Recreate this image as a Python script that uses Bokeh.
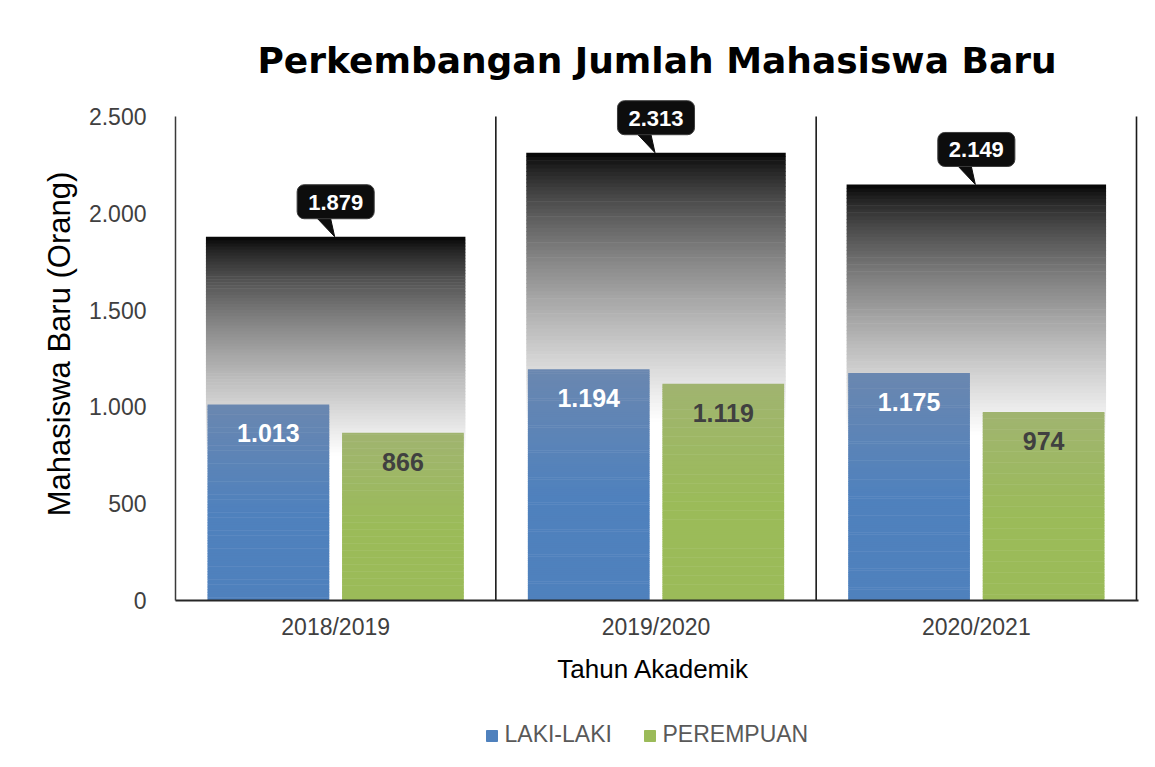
from bokeh.plotting import figure
from bokeh.layouts import column
from bokeh.models import ColumnDataSource, FixedTicker
from bokeh.core.properties import value
from bokeh.embed import file_html
from bokeh.resources import INLINE

# ---------------- data ----------------
title_text = "Perkembangan Jumlah Mahasiswa Baru"
categories = ["2018/2019", "2019/2020", "2020/2021"]
laki = [1013, 1194, 1175]
perempuan = [866, 1119, 974]
total = [1879, 2313, 2149]
y_ticks = [0, 500, 1000, 1500, 2000, 2500]
y_tick_labels = ["0", "500", "1.000", "1.500", "2.000", "2.500"]
y_max = 2500
series_names = ["LAKI-LAKI", "PEREMPUAN"]
series_colors = ["#4f81bd", "#9bbb59"]
x_title = "Tahun  Akademik"
y_title = "Mahasiswa Baru (Orang)"


def fmt(v):
    return f"{v:,}".replace(",", ".")


# ---------------- layout constants (pixels) ----------------
W, H = 1147, 700
H_LEG = 59
ML, MR, MT, MB = 175, 9, 87, 100
AXIS_TOP_PX = 116                      # where y_max sits
FRAME_W = W - ML - MR
FRAME_H = H - MT - MB
PX_PER_Y = (FRAME_H - (AXIS_TOP_PX - MT)) / y_max
Y_END = y_max + (AXIS_TOP_PX - MT) / PX_PER_Y
X_PER_PX = 3.0 / (FRAME_W - 2)
X_END = 2.5 + 2 * X_PER_PX
Y_PER_PX = 1.0 / PX_PER_Y
N = 120  # gradient slices
OVERLAP = 0.6 * Y_PER_PX


def hexc(rgb):
    return "#%02x%02x%02x" % tuple(int(round(max(0, min(255, c)))) for c in rgb)


def lerp(a, b, t):
    return tuple(a[j] + (b[j] - a[j]) * t for j in range(3))


def total_color(f):
    g = 255 * min(1.0, f / 0.6) ** 0.7
    return hexc((g, g, g))


def blue_color(f):
    return hexc(lerp((106, 135, 176), (79, 129, 189), min(1.0, f / 0.55)))


def green_color(f):
    return hexc(lerp((160, 180, 112), (155, 187, 89), min(1.0, f / 0.55)))


def slices(values, offset, color_fn):
    xs, bs, ts, cs = [], [], [], []
    for i, v in enumerate(values):
        for k in range(N):
            xs.append(i + offset)
            bs.append(max(0.0, v * k / N - OVERLAP))
            ts.append(v * (k + 1) / N)
            cs.append(color_fn(1 - (k + 0.5) / N))
    return ColumnDataSource(dict(x=xs, bottom=bs, top=ts, color=cs))


p = figure(width=W, height=H, x_range=(-0.5, X_END), y_range=(0, Y_END),
           output_backend="svg", toolbar_location=None,
           min_border_left=ML, min_border_right=MR, min_border_top=MT, min_border_bottom=MB)
p.outline_line_color = None
p.background_fill_color = "white"
p.border_fill_color = "white"
p.xgrid.grid_line_color = None
p.ygrid.grid_line_color = None

idx = list(range(len(categories)))

# category separators (boundaries between categories + right edge)
bounds_x = [i + 0.5 for i in idx]
p.segment(x0=bounds_x, y0=[0] * len(bounds_x), x1=bounds_x, y1=[y_max] * len(bounds_x),
          line_color="#1a1a1a", line_width=1.6)

# total gradient bars
src_t = slices(total, 0.0, total_color)
p.vbar(x="x", bottom="bottom", top="top", width=0.81, source=src_t,
       fill_color="color", line_color=None)

src_m = slices(laki, -0.21, blue_color)
p.vbar(x="x", bottom="bottom", top="top", width=0.38, source=src_m,
       fill_color="color", line_color=None)
src_f = slices(perempuan, 0.21, green_color)
p.vbar(x="x", bottom="bottom", top="top", width=0.38, source=src_f,
       fill_color="color", line_color=None)

# inner labels
p.text(x=[i - 0.21 for i in idx], y=laki, text=[fmt(v) for v in laki],
       text_align="center", text_baseline="middle", y_offset=29,
       text_font=value("Liberation Sans"), text_font_style="bold",
       text_font_size="25px", text_color="white")
p.text(x=[i + 0.21 for i in idx], y=perempuan, text=[fmt(v) for v in perempuan],
       text_align="center", text_baseline="middle", y_offset=29,
       text_font=value("Liberation Sans"), text_font_style="bold",
       text_font_size="25px", text_color="#404040")

# callout pointers
pxs, pys = [], []
for i, t in zip(idx, total):
    pxs.append([i - 18 * X_PER_PX, i - 5 * X_PER_PX, i - 1 * X_PER_PX])
    pys.append([t + 18 * Y_PER_PX, t + 18 * Y_PER_PX, t])
p.patches(xs=pxs, ys=pys, fill_color="#0d0d0d", line_color="#0d0d0d", line_width=1)

# callout boxes
p.text(x=idx, y=total, text=[fmt(v) for v in total],
       text_align="center", text_baseline="middle", y_offset=-35,
       text_font=value("Liberation Sans"), text_font_style="bold",
       text_font_size="22px", text_color="white",
       background_fill_color="#0d0d0d", border_line_color="#3c3c3c",
       border_line_width=1, border_radius=7,
       padding=dict(left=11, right=11, top=10, bottom=9))

# axes
p.xaxis.ticker = FixedTicker(ticks=idx)
p.xaxis.major_label_overrides = {i: c for i, c in zip(idx, categories)}
p.yaxis.ticker = FixedTicker(ticks=y_ticks)
p.yaxis.major_label_overrides = dict(zip(y_ticks, y_tick_labels))
p.yaxis.bounds = (0, y_max)
for ax in (p.xaxis[0], p.yaxis[0]):
    ax.major_tick_in = 0
    ax.major_tick_out = 0
    ax.minor_tick_in = 0
    ax.minor_tick_out = 0
    ax.major_label_text_font = "Liberation Sans"
    ax.major_label_text_font_size = "23px"
    ax.major_label_text_color = "#404040"
    ax.axis_label_text_font = "Liberation Sans"
    ax.axis_label_text_font_style = "normal"
    ax.axis_label_text_color = "black"
p.yaxis.axis_line_color = "#3a3a3a"
p.yaxis.axis_line_width = 1.5
p.xaxis.axis_line_color = "#262626"
p.xaxis.axis_line_width = 2
p.yaxis.major_label_standoff = 29
p.yaxis.axis_label = y_title
p.yaxis.axis_label_text_font_size = "31px"
p.yaxis.axis_label_standoff = 9
p.xaxis.major_label_standoff = 13
p.xaxis.axis_label = x_title
p.xaxis.axis_label_text_font_size = "26px"
p.xaxis.axis_label_standoff = 11

# title
p.title.text = title_text
p.title.align = "center"
p.title.text_font = "DejaVu Sans"
p.title.text_font_size = "36px"
p.title.text_font_style = "bold"
p.title.text_color = "black"
p.title.standoff = 13

# ---------------- legend strip (pixel coordinates, frame aligned with p) ----------------
p2 = figure(width=W, height=H_LEG, x_range=(0, FRAME_W), y_range=(0, H_LEG),
            output_backend="svg", toolbar_location=None,
            x_axis_location=None, y_axis_location=None,
            min_border_left=0, min_border_right=0, min_border_top=0, min_border_bottom=0)
p2.outline_line_color = None
p2.xgrid.grid_line_color = None
p2.ygrid.grid_line_color = None
leg_x = [311, 469]        # left edge of each legend swatch
p2.scatter(x=[x + 5.5 for x in leg_x], y=[23.5] * 2, marker="square", size=11,
           fill_color=series_colors, line_color=series_colors)
p2.text(x=[x + 18 for x in leg_x], y=[26] * 2, text=series_names,
        text_align="left", text_baseline="middle",
        text_font=value("Liberation Sans"), text_font_size="23px", text_color="#595959")

open("out.html", "w").write(file_html(column(p, p2, spacing=0), INLINE))
